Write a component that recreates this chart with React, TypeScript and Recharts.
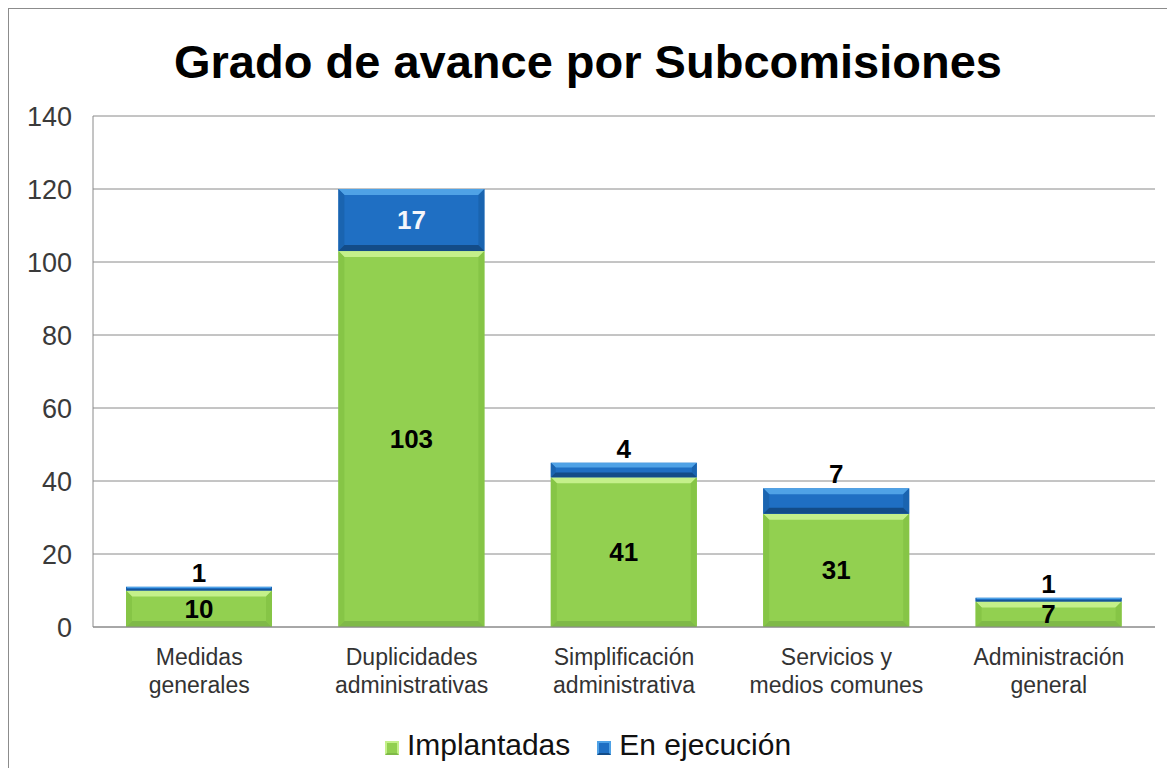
import React from 'react';
import { BarChart, Bar, XAxis, YAxis, CartesianGrid, LabelList, Legend } from 'recharts';

const categories = [
  'Medidas generales',
  'Duplicidades administrativas',
  'Simplificación administrativa',
  'Servicios y medios comunes',
  'Administración general',
];
const categoryLines: string[][] = [
  ['Medidas', 'generales'],
  ['Duplicidades', 'administrativas'],
  ['Simplificación', 'administrativa'],
  ['Servicios y', 'medios comunes'],
  ['Administración', 'general'],
];
const implantadas = [10, 103, 41, 31, 7];
const enEjecucion = [1, 17, 4, 7, 1];
const yTicks = [0, 20, 40, 60, 80, 100, 120, 140];
const seriesNames = ['Implantadas', 'En ejecución'];

const data = categories.map((name, i) => ({
  name,
  implantadas: implantadas[i],
  ejecucion: enEjecucion[i],
}));

const FONT = '"Liberation Sans", Arial, sans-serif';

const GREEN = { face: '#92d050', top: '#c4f08a', side: '#86c546', bottom: '#7fb948' };
const BLUE = { face: '#1f6fc3', top: '#4fa2e6', side: '#1a64b0', bottom: '#134c88' };

function makeShape(p: typeof GREEN) {
  return (props: any) => {
    const { x, y, width: w, height: h } = props;
    if (!h || h <= 0) return null;
    const b = Math.max(0, Math.min(6, h / 3, w / 3));
    return (
      <g>
        <rect x={x} y={y} width={w} height={h} fill={p.face} />
        <polygon points={`${x},${y} ${x + w},${y} ${x + w - b},${y + b} ${x + b},${y + b}`} fill={p.top} />
        <polygon points={`${x},${y} ${x + b},${y + b} ${x + b},${y + h - b} ${x},${y + h}`} fill={p.side} />
        <polygon points={`${x + w},${y} ${x + w - b},${y + b} ${x + w - b},${y + h - b} ${x + w},${y + h}`} fill={p.side} />
        <polygon points={`${x},${y + h} ${x + b},${y + h - b} ${x + w - b},${y + h - b} ${x + w},${y + h}`} fill={p.bottom} />
      </g>
    );
  };
}

const GreenShape = makeShape(GREEN);
const BlueShape = makeShape(BLUE);

const XTick = (props: any) => {
  const { x, y, index } = props;
  const lines = categoryLines[index] || [];
  return (
    <g>
      {lines.map((l, i) => (
        <text key={i} x={x} y={y + 38 + i * 28} textAnchor="middle" fontSize={23} fill="#333333" fontFamily={FONT}>
          {l}
        </text>
      ))}
    </g>
  );
};

const ExecLabel = (props: any) => {
  const { x, y, width, height, value } = props;
  const cx = x + width / 2;
  if (height > 30) {
    return (
      <text x={cx} y={y + height / 2 + 9} textAnchor="middle" fontSize={26} fontWeight="bold" fill="#f4f6fb" fontFamily={FONT}>
        {value}
      </text>
    );
  }
  return (
    <text x={cx} y={y - 5} textAnchor="middle" fontSize={26} fontWeight="bold" fill="#000" fontFamily={FONT}>
      {value}
    </text>
  );
};

const ImplLabel = (props: any) => {
  const { x, y, width, height, value } = props;
  return (
    <text x={x + width / 2} y={y + height / 2 + 9} textAnchor="middle" fontSize={26} fontWeight="bold" fill="#000" fontFamily={FONT}>
      {value}
    </text>
  );
};

const LegendContent = () => {
  const palettes = [GREEN, BLUE];
  return (
    <div style={{ display: 'flex', justifyContent: 'center', alignItems: 'center', fontFamily: FONT, fontSize: 30, lineHeight: '30px', color: '#111' }}>
      {seriesNames.map((n, i) => (
        <div key={n} style={{ display: 'flex', alignItems: 'center', marginRight: i === 0 ? 27 : 0 }}>
          <div
            style={{
              width: 14,
              height: 14,
              marginRight: 8,
              marginTop: 6,
              background: palettes[i].face,
              boxSizing: 'border-box',
              border: `2px solid ${palettes[i].top}`,
              borderBottomColor: palettes[i].bottom,
            }}
          />
          <span>{n}</span>
        </div>
      ))}
    </div>
  );
};

export default function App() {
  return (
    <div
      style={{
        position: 'relative',
        width: 1159,
        height: 760,
        boxSizing: 'border-box',
        borderTop: '1px solid #8c8c8c',
        borderLeft: '1px solid #8c8c8c',
        background: '#fff',
      }}
    >
      <div
        style={{
          position: 'absolute',
          top: 29,
          left: 0,
          width: '100%',
          textAlign: 'center',
          fontFamily: FONT,
          fontWeight: 'bold',
          fontSize: 47,
          lineHeight: '47px',
          color: '#000',
          zIndex: 2,
        }}
      >
        Grado de avance por Subcomisiones
      </div>
      <BarChart width={1158} height={759} data={data} margin={{ top: 107, right: 12, left: 0, bottom: 0 }}>
        <CartesianGrid vertical={false} stroke="#8a8a8a" strokeWidth={1} />
        <YAxis
          width={84}
          domain={[0, 140]}
          ticks={yTicks}
          tickLine={false}
          tickSize={0}
          tickMargin={21}
          axisLine={{ stroke: '#8a8a8a' }}
          tick={{ fontSize: 27, fill: '#3a3a3a', fontFamily: FONT }}
        />
        <XAxis
          dataKey="name"
          height={141}
          tickLine={false}
          tickSize={0}
          tickMargin={0}
          axisLine={{ stroke: '#8a8a8a' }}
          tick={<XTick />}
          interval={0}
        />
        <Legend
          layout="horizontal"
          verticalAlign="middle"
          align="center"
          content={<LegendContent />}
          wrapperStyle={{ position: 'absolute', top: 721, left: 0, width: 1158 }}
        />
        <Bar dataKey="implantadas" stackId="a" barSize={146} shape={GreenShape} isAnimationActive={false}>
          <LabelList dataKey="implantadas" content={<ImplLabel />} />
        </Bar>
        <Bar dataKey="ejecucion" stackId="a" barSize={146} shape={BlueShape} isAnimationActive={false}>
          <LabelList dataKey="ejecucion" content={<ExecLabel />} />
        </Bar>
      </BarChart>
    </div>
  );
}
